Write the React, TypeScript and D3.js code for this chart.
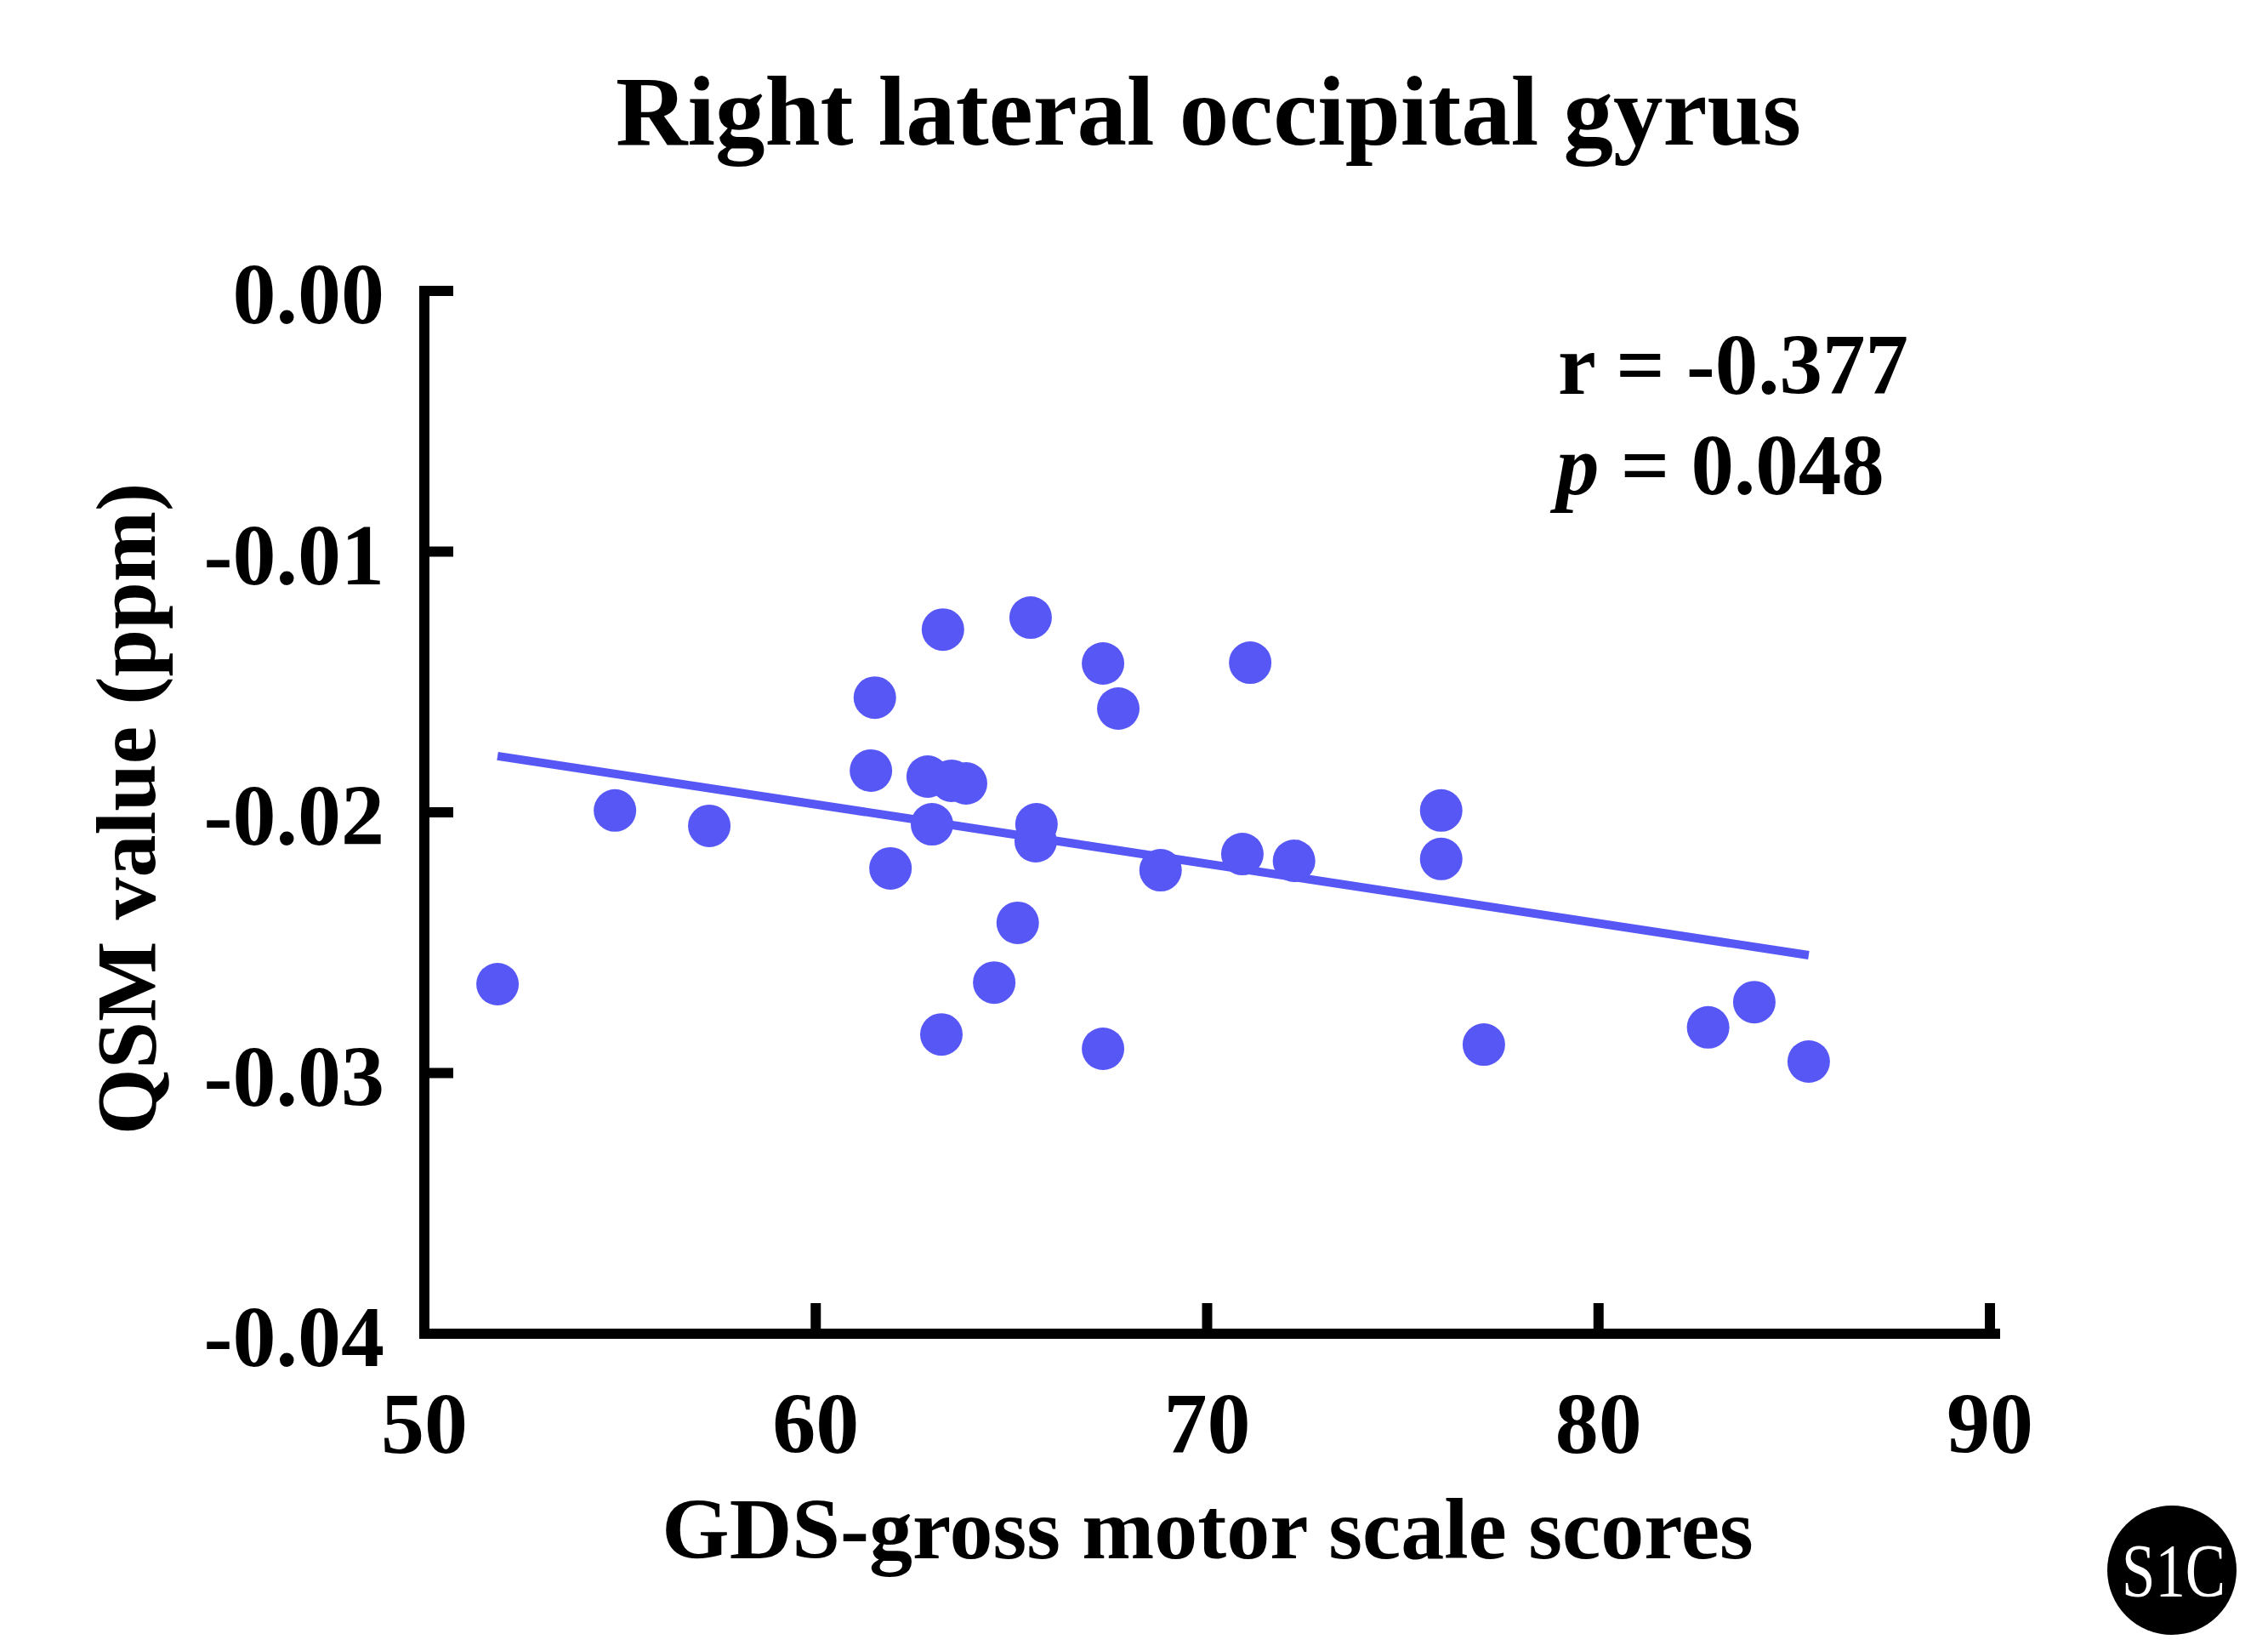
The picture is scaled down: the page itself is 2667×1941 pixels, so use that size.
import * as d3 from 'd3'

// GDS-gross motor scale scores
const gdsScores = [
  51.87, 54.87, 57.28, 61.51, 61.41, 63.25, 62.86, 63.47, 63.84, 62.97,
  61.91, 65.49, 67.34, 67.73, 65.64, 65.62, 68.81, 65.16, 64.56, 63.21,
  67.34, 71.1, 70.9, 72.22, 75.98, 75.98, 77.07, 82.8, 83.98, 85.37,
]
// QSM value (ppm)
const qsmValues = [
  -0.02659, -0.01993, -0.02052, -0.0156, -0.0184, -0.01299, -0.01863, -0.01879, -0.01889, -0.02046,
  -0.02215, -0.01253, -0.01429, -0.01602, -0.02046, -0.02111, -0.02222, -0.02424, -0.02653, -0.02852,
  -0.02907, -0.01426, -0.0216, -0.02186, -0.01993, -0.02179, -0.02891, -0.02825, -0.02728, -0.02956,
]
const xTicks = [50, 60, 70, 80, 90]
const yTicks = [0, -0.01, -0.02, -0.03, -0.04]
const yTickLabels = ['0.00', '-0.01', '-0.02', '-0.03', '-0.04']
const stats = { r: '-0.377', p: '0.048' }

const W = 2667
const H = 1941
const FONT = '"Liberation Serif", "Times New Roman", serif'
const BLUE = '#5757F6'

export default function App() {
  const x = d3.scaleLinear().domain([50, 90]).range([499, 2340])
  const y = d3.scaleLinear().domain([-0.04, 0]).range([1568, 342])

  // least-squares fit over the points
  const mx = d3.mean(gdsScores)!
  const my = d3.mean(qsmValues)!
  let sxy = 0
  let sxx = 0
  gdsScores.forEach((v, i) => {
    sxy += (v - mx) * (qsmValues[i] - my)
    sxx += (v - mx) * (v - mx)
  })
  const slope = sxy / sxx
  const intercept = my - slope * mx
  const [x0, x1] = d3.extent(gdsScores) as [number, number]
  const fit = d3.line<number>().x(d => x(d)).y(d => y(intercept + slope * d))

  const axisLeft = x.range()[0]
  const axisBottom = y.range()[0]

  return (
    <svg width={W} height={H} style={{ position: 'absolute', left: 0, top: 0, background: '#fff' }}>
      <text x={1421} y={170} textAnchor="middle" fontFamily={FONT} fontWeight="bold" fontSize={117}>
        Right lateral occipital gyrus
      </text>

      {/* fit line */}
      <path d={fit([x0, x1]) ?? ''} stroke={BLUE} strokeWidth={10} fill="none" />

      {/* points */}
      {gdsScores.map((v, i) => (
        <circle key={i} cx={x(v)} cy={y(qsmValues[i])} r={25} fill={BLUE} />
      ))}

      {/* axes */}
      <path
        d={`M${axisLeft},${y(0)} V${axisBottom} H${x(90) + 6}`}
        stroke="#000"
        strokeWidth={12}
        fill="none"
        strokeLinecap="square"
        strokeLinejoin="miter"
      />
      {yTicks.map((t, i) => (
        <g key={t}>
          <line x1={axisLeft} x2={axisLeft + 34} y1={y(t)} y2={y(t)} stroke="#000" strokeWidth={12} />
          <text x={452} y={y(t) + 38} textAnchor="end" fontFamily={FONT} fontWeight="bold" fontSize={102}>
            {yTickLabels[i]}
          </text>
        </g>
      ))}
      {xTicks.map(t => (
        <g key={t}>
          {t !== 50 && (
            <line x1={x(t)} x2={x(t)} y1={axisBottom + 6} y2={axisBottom - 36} stroke="#000" strokeWidth={12} />
          )}
          <text x={x(t)} y={1708} textAnchor="middle" fontFamily={FONT} fontWeight="bold" fontSize={102}>
            {t}
          </text>
        </g>
      ))}

      <text x={1420} y={1832} textAnchor="middle" fontFamily={FONT} fontWeight="bold" fontSize={102}>
        GDS-gross motor scale scores
      </text>
      <text
        transform={`translate(182,951) rotate(-90)`}
        textAnchor="middle"
        fontFamily={FONT}
        fontWeight="bold"
        fontSize={100}
      >
        QSM value (ppm)
      </text>

      {/* stats */}
      <text x={1832} y={463} fontFamily={FONT} fontWeight="bold" fontSize={101}>
        r = {stats.r}
      </text>
      <text x={1830} y={581} fontFamily={FONT} fontWeight="bold" fontSize={101}>
        <tspan fontStyle="italic">p</tspan> = {stats.p}
      </text>

      {/* panel badge */}
      <circle cx={2554} cy={1846} r={76} fill="#000" />
      <text
        x={2556}
        y={1876}
        textAnchor="middle"
        fill="#fff"
        fontFamily={FONT}
        fontSize={88}
        textLength={122}
        lengthAdjust="spacingAndGlyphs"
      >
        S1C
      </text>
    </svg>
  )
}
